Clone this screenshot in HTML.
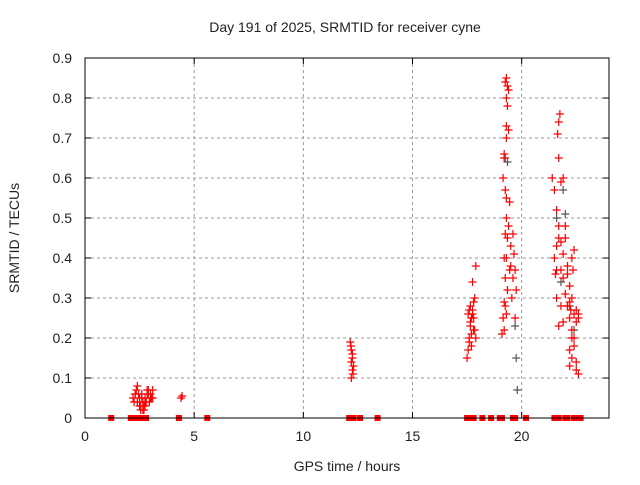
<!DOCTYPE html>
<html><head><meta charset="utf-8"><style>
body{margin:0;background:#fff;}
svg text{font-family:"Liberation Sans",sans-serif;font-size:14px;fill:#222;}
</style></head><body>
<svg width="640" height="480" id="c">
<rect width="640" height="480" fill="#fff"/>
<text x="345" y="32" text-anchor="middle">Day 191 of 2025, SRMTID for receiver cyne</text>
<text x="347" y="471" text-anchor="middle">GPS time / hours</text>
<text transform="translate(19,238) rotate(-90)" text-anchor="middle">SRMTID / TECUs</text>
<g id="grid"></g><g id="ticks"></g><g id="marks"></g>
<rect x="85" y="58" width="524" height="360" fill="none" stroke="#000" stroke-width="1"/>
</svg>
<script>
const xTicks=[0,5,10,15,20];
const yTicks=[0,0.1,0.2,0.3,0.4,0.5,0.6,0.7,0.8,0.9];
const redX=[2.2,2.3,2.4,2.5,2.6,2.7,2.8,2.9,3.0,3.1,2.35,2.55,2.75,2.95,2.45,2.65,2.85,3.05,4.4,4.45,
2.25,2.4,2.6,2.7,2.8,2.9,3.0,2.5,2.65,2.75,2.85,2.3,3.1,2.55,
12.15,12.2,12.25,12.2,12.25,12.3,12.2,12.25,12.18,12.28,
17.5,17.55,17.6,17.65,17.7,17.75,17.8,17.85,17.9,17.6,17.7,17.8,17.75,17.65,17.85,17.9,17.55,17.6,17.7,17.8,17.65,17.75,
19.1,19.15,19.2,19.25,19.3,19.35,19.3,19.25,19.2,19.3,19.35,19.4,19.3,19.25,19.2,19.15,19.3,19.4,19.5,19.45,19.35,19.25,19.3,19.2,19.6,19.65,19.7,19.75,19.7,19.55,19.6,19.3,19.35,19.4,19.3,19.25,19.2,19.45,19.5,
21.4,21.5,21.6,21.7,21.8,21.9,21.7,21.65,21.75,21.6,21.5,21.55,21.8,21.9,22.0,22.1,22.2,22.3,22.4,22.5,22.6,22.2,22.3,22.4,22.5,22.1,22.0,21.9,22.3,22.2,22.4,22.5,22.6,21.6,21.7,22.1,22.3,
21.6,21.7,21.8,21.9,22.0,22.2,22.3,22.4,22.5,22.6,21.7,21.8,22.1,22.2,22.25,22.35];
const redY=[0.05,0.06,0.04,0.03,0.05,0.02,0.04,0.06,0.05,0.07,0.07,0.03,0.05,0.04,0.06,0.02,0.07,0.05,0.05,0.055,
0.04,0.08,0.06,0.03,0.04,0.07,0.06,0.05,0.04,0.03,0.06,0.06,0.05,0.02,
0.19,0.17,0.16,0.14,0.12,0.13,0.1,0.15,0.18,0.11,
0.15,0.17,0.2,0.23,0.25,0.27,0.29,0.3,0.38,0.19,0.21,0.25,0.34,0.28,0.22,0.2,0.26,0.27,0.18,0.22,0.24,0.26,
0.21,0.25,0.29,0.35,0.4,0.45,0.5,0.57,0.66,0.73,0.78,0.82,0.85,0.84,0.65,0.6,0.55,0.48,0.43,0.37,0.32,0.28,0.26,0.22,0.46,0.41,0.37,0.32,0.25,0.3,0.35,0.8,0.83,0.72,0.7,0.46,0.4,0.54,0.38,
0.6,0.57,0.52,0.48,0.44,0.41,0.65,0.71,0.76,0.43,0.4,0.36,0.37,0.35,0.31,0.28,0.25,0.22,0.18,0.14,0.11,0.33,0.3,0.26,0.24,0.38,0.45,0.6,0.15,0.13,0.2,0.27,0.25,0.3,0.23,0.28,0.4,
0.37,0.45,0.28,0.24,0.48,0.29,0.2,0.42,0.12,0.26,0.74,0.59,0.36,0.17,0.27,0.37];
const grayX=[19.25,19.35,19.7,19.75,19.8,21.6,21.9,22.0,22.2,22.4,21.8];
const grayY=[0.65,0.64,0.23,0.15,0.07,0.5,0.57,0.51,0.28,0.22,0.34];
const zeroX=[1.2,2.1,2.3,2.4,2.5,2.6,2.7,2.8,4.3,5.6,12.1,12.3,12.6,13.4,17.5,17.6,17.7,17.8,18.2,18.6,19.0,19.1,19.6,19.7,20.2,21.5,21.6,21.7,22.0,22.1,22.4,22.5,22.7];
const X=v=>85+v*524/24, Y=v=>418-v*400;
const NS="http://www.w3.org/2000/svg";
function mk(t,a,p){const e=document.createElementNS(NS,t);for(const k in a)e.setAttribute(k,a[k]);p.appendChild(e);return e;}
const g=document.getElementById('grid'),tk=document.getElementById('ticks'),m=document.getElementById('marks');
xTicks.forEach(v=>{const x=X(v);
 if(v>0){const l=mk('line',{x1:x,x2:x,y1:58,y2:418,stroke:'#999','stroke-dasharray':'3,3'},g);
 
 }
 mk('line',{x1:x,x2:x,y1:418,y2:412,stroke:'#000'},tk);mk('line',{x1:x,x2:x,y1:58,y2:64,stroke:'#000'},tk);
 const t=mk('text',{x:x,y:441,'text-anchor':'middle'},tk);t.textContent=v;
 
 });
yTicks.forEach(v=>{const y=Y(v);
 if(v>0&&v<0.9){const l=mk('line',{x1:85,x2:609,y1:y,y2:y,stroke:'#999','stroke-dasharray':'3,3'},g);
 
 }
 mk('line',{x1:85,x2:91,y1:y,y2:y,stroke:'#000'},tk);mk('line',{x1:609,x2:603,y1:y,y2:y,stroke:'#000'},tk);
 const t=mk('text',{x:72,y:y+5,'text-anchor':'end'},tk);t.textContent=v===0?'0':v.toFixed(1);
 
 });
function plus(x,y,c,name){const p=mk('path',{d:`M${x-4},${y}h8M${x},${y-4}v8`,stroke:c,'stroke-width':1.2},m);
 
 }
grayX.forEach((v,i)=>plus(X(v),Y(grayY[i]),'#555','gray-point'));
redX.forEach((v,i)=>plus(X(v),Y(redY[i]),'#f00','red-point'));
zeroX.forEach(v=>{const r=mk('rect',{x:X(v)-3,y:415,width:6,height:6,fill:'#f00'},m);
 
 });
</script>
</body></html>
